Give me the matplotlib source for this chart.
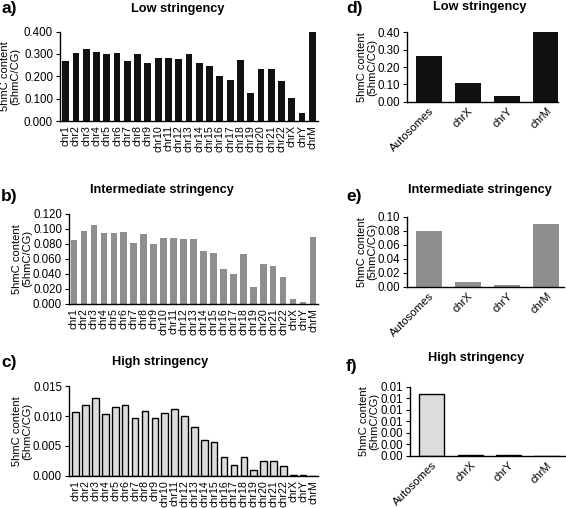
import matplotlib

matplotlib.use("Agg")

import matplotlib.pyplot as plt
import numpy as np
from matplotlib.ticker import FormatStrFormatter
from matplotlib.transforms import blended_transform_factory

plt.rcParams["font.family"] = ["Liberation Sans", "DejaVu Sans"]

# ==========================================================
# Data
# ==========================================================

chromosomes = [f"chr{i}" for i in range(1, 23)] + ["chrX", "chrY", "chrM"]
groups = ["Autosomes", "chrX", "chrY", "chrM"]

low_by_chr = [
    0.268, 0.306, 0.321, 0.309, 0.300, 0.304, 0.267, 0.300, 0.259, 0.282,
    0.280, 0.277, 0.300, 0.259, 0.246, 0.199, 0.183, 0.274, 0.127, 0.232,
    0.231, 0.178, 0.104, 0.035, 0.402,
]
mid_by_chr = [
    0.0851, 0.0975, 0.1046, 0.0944, 0.0949, 0.0957, 0.0816, 0.0931, 0.0799,
    0.0878, 0.0878, 0.0860, 0.0865, 0.0710, 0.0680, 0.0468, 0.0394, 0.0660,
    0.0220, 0.0525, 0.0505, 0.0365, 0.0071, 0.0020, 0.0890,
]
high_by_chr = [
    0.01075, 0.01187, 0.0131, 0.0104, 0.01153, 0.0119, 0.00968, 0.0108,
    0.00968, 0.01047, 0.01114, 0.0100, 0.00817, 0.0060, 0.0057, 0.0031,
    0.00185, 0.0031, 0.0009, 0.0025, 0.0024, 0.0016, 0.0001, 0.0002, 0.0,
]

low_by_group = [0.265, 0.105, 0.035, 0.402]
mid_by_group = [0.079, 0.007, 0.002, 0.090]
high_by_group = [0.0107, 0.0001, 0.0001, 0.0]

FIG_W, FIG_H = 566, 508


def place_axes(fig, left, top, right, bottom):
    """Add axes using pixel coordinates measured from the top-left."""
    return fig.add_axes([
        left / FIG_W,
        1 - bottom / FIG_H,
        (right - left) / FIG_W,
        (bottom - top) / FIG_H,
    ])


def draw_panel(ax, labels, values, color, edge, yticks, fmt, xlim,
               rotation, label_x):
    """Draw one bar panel in the style of the figure."""
    x = np.arange(len(labels))
    ax.bar(
        x, values, width=0.66, color=color,
        edgecolor=edge, linewidth=1.0 if edge != "none" else 0,
    )
    ax.set_xlim(*xlim)
    ax.set_ylim(yticks[0], yticks[-1])
    ax.set_yticks(yticks)
    ax.yaxis.set_major_formatter(FormatStrFormatter(fmt))
    ax.set_xticks(x)
    if rotation == 90:
        ax.set_xticklabels(labels, rotation=90, fontsize=7.7)
    else:
        ax.set_xticklabels(
            labels, rotation=45, ha="right", rotation_mode="anchor",
            fontsize=8.2,
        )
    ax.tick_params(axis="x", length=0, pad=3)
    ax.tick_params(axis="y", length=3, width=0.8, labelsize=8.3, pad=2)
    for side in ("top", "right"):
        ax.spines[side].set_visible(False)
    for side in ("left", "bottom"):
        ax.spines[side].set_linewidth(1.0)
    ax.set_ylabel("5hmC content\n(5hmC/CG)", fontsize=8.0, linespacing=1.0)
    ax.yaxis.set_label_coords(
        label_x / FIG_W, 0.5,
        transform=blended_transform_factory(fig.transFigure, ax.transAxes),
    )


fig = plt.figure(figsize=(FIG_W / 100, FIG_H / 100), dpi=100)

black = "#111111"
mid_gray = "#8e8e8e"
light_gray = "#dcdcdc"

# ==========================================================
# Per-chromosome panels
# ==========================================================

ax_a = place_axes(fig, 60, 31.5, 318, 121)
draw_panel(ax_a, chromosomes, low_by_chr, black, "none",
           np.linspace(0, 0.4, 5), "%.3f", (-0.55, 24.55), 90, 20)

ax_b = place_axes(fig, 69, 213.7, 318, 304)
draw_panel(ax_b, chromosomes, mid_by_chr, mid_gray, "none",
           np.linspace(0, 0.12, 7), "%.3f", (-0.5, 24.5), 90, 32)

ax_c = place_axes(fig, 69, 386.3, 318, 475.7)
draw_panel(ax_c, chromosomes, high_by_chr, light_gray, "black",
           np.linspace(0, 0.015, 4), "%.3f", (-0.68, 24.5), 90, 32)

# ==========================================================
# Grouped panels
# ==========================================================

ax_d = place_axes(fig, 407, 32.3, 558, 101.7)
draw_panel(ax_d, groups, low_by_group, black, "none",
           np.linspace(0, 0.4, 5), "%.2f", (-0.55, 3.3), 45, 377)

ax_e = place_axes(fig, 407, 216.7, 564, 286.7)
draw_panel(ax_e, groups, mid_by_group, mid_gray, "none",
           np.linspace(0, 0.1, 6), "%.2f", (-0.55, 3.45), 45, 377)

ax_f = place_axes(fig, 410, 386.7, 566, 456)
draw_panel(ax_f, groups, high_by_group, light_gray, "black",
           np.linspace(0, 0.012, 7), "%.2f", (-0.57, 3.5), 45, 379)

# ==========================================================
# Titles and panel letters
# ==========================================================

titles = [
    (178, 9, "Low stringency"),
    (162, 190, "Intermediate stringency"),
    (160, 362, "High stringency"),
    (480, 7, "Low stringency"),
    (480, 190, "Intermediate stringency"),
    (476, 358, "High stringency"),
]
for x, y, text in titles:
    fig.text(x / FIG_W, 1 - y / FIG_H, text, ha="center", va="center",
             fontsize=9.2, fontweight="bold")

letters = [
    (1, 9, "a)"), (1, 196, "b)"), (1, 363, "c)"),
    (346, 8, "d)"), (346, 196, "e)"), (346, 367, "f)"),
]
for x, y, text in letters:
    fig.text(x / FIG_W, 1 - y / FIG_H, text, ha="left", va="center",
             fontsize=12.5, fontweight="bold")

fig.savefig("out.png", dpi=100)
